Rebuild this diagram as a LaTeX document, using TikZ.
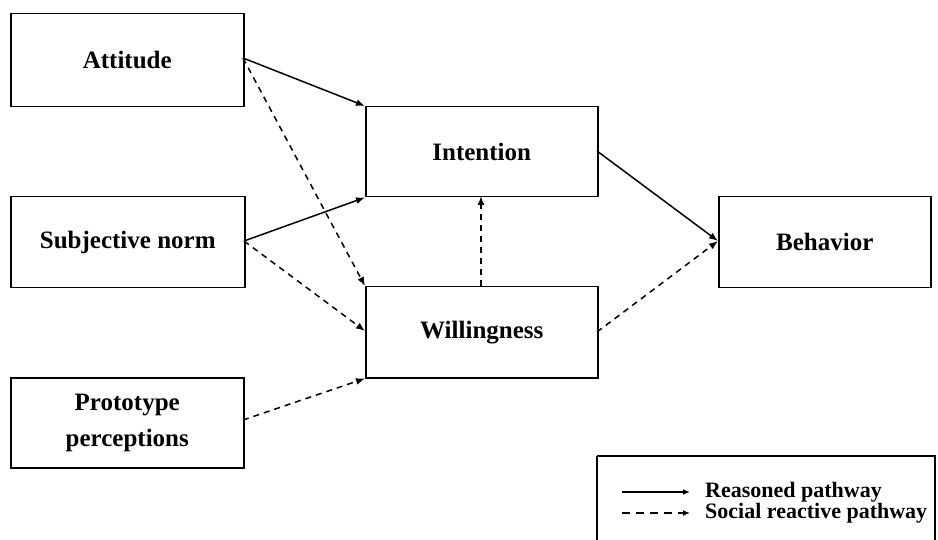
\documentclass[tikz,border=0pt]{standalone}
\usepackage{fontspec}
\setmainfont{Liberation Serif}
\usetikzlibrary{arrows.meta}
\begin{document}
\begin{tikzpicture}[x=1pt,y=-1pt,
  box/.style={draw, line width=1.5pt, font=\bfseries\fontsize{25}{36}\selectfont, align=center, anchor=north west, inner sep=0pt},
  reason/.style={line width=1.5pt, -{Latex[length=9pt,width=7pt]}},
  social/.style={line width=1.5pt, dash pattern=on 6pt off 5pt, -{Latex[length=9pt,width=7pt]}},
  legtext/.style={font=\bfseries\fontsize{22}{26}\selectfont, anchor=west, inner sep=0pt}]
\useasboundingbox (0,0) rectangle (938,540);
\node[box, minimum width=233pt, minimum height=93pt] (att) at (10,13) {Attitude};
\node[box, minimum width=234pt, minimum height=91pt] (sn) at (10,196) {Subjective norm};
\node[box, minimum width=233pt, minimum height=90pt] (pp) at (10,377) {Prototype\\perceptions};
\node[box, minimum width=232pt, minimum height=90pt] (int) at (365,106) {Intention};
\node[box, minimum width=232pt, minimum height=91pt] (wil) at (365,286) {Willingness};
\node[box, minimum width=212pt, minimum height=91pt] (beh) at (718,196) {Behavior};
\draw[line width=1.5pt] (597,456) -- (935,456) -- (935,545) (597,545) -- (597,456);
\coordinate (a1) at (243,58);
\coordinate (s1) at (244,241);
\coordinate (p1) at (243,420);
\coordinate (w2) at (365,331);
\coordinate (b1) at (718,241);
\coordinate (i2) at (597,151);
\coordinate (w3) at (597,332);
\draw[reason] (a1) -- (int.north west);
\draw[social] (a1) -- (wil.north west);
\draw[reason] (s1) -- (int.south west);
\draw[social] (s1) -- (w2);
\draw[social] (p1) -- (wil.south west);
\draw[social] (481,286) -- (481,196);
\draw[reason] (i2) -- (b1);
\draw[social] (w3) -- (b1);
\coordinate (l1) at (622,492);
\coordinate (l2) at (690,492);
\coordinate (l3) at (622,513);
\coordinate (l4) at (690,513);
\draw[line width=1.6pt, -{Latex[length=7pt,width=6pt]}] (l1) -- (l2);
\draw[line width=1.6pt, dash pattern=on 8pt off 6pt, -{Latex[length=7pt,width=6pt]}] (l3) -- (l4);
\node[legtext] (lt1) at (705,492) {Reasoned pathway};
\node[legtext] (lt2) at (705,513) {Social reactive pathway};
\end{tikzpicture}
\end{document}
